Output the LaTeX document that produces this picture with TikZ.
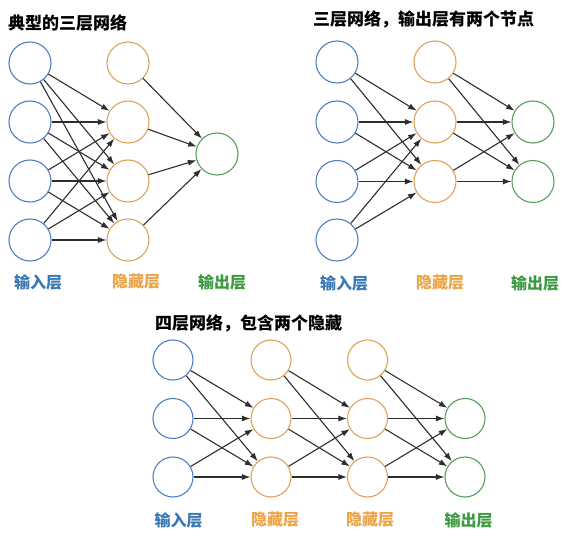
\documentclass[tikz,border=0pt]{standalone}
\usepackage{fontspec}
\newfontfamily\cjk{Noto Sans CJK SC}
\usetikzlibrary{arrows.meta}
\definecolor{inblue}{HTML}{5080C4}
\definecolor{hidorange}{HTML}{DDA35A}
\definecolor{outgreen}{HTML}{5A9E5C}
\definecolor{lblblue}{HTML}{3A7AB4}
\definecolor{lblorange}{HTML}{EBA446}
\definecolor{lblgreen}{HTML}{3E9A40}
\definecolor{edgegray}{HTML}{2E2E2E}
\begin{document}
\begin{tikzpicture}[x=1pt,y=-1pt,
  neuron/.style={circle,draw,line width=1.1pt,minimum size=42pt,inner sep=0pt},
  smallneuron/.style={neuron,minimum size=40pt},
  inn/.style={draw=inblue},
  hid/.style={draw=hidorange},
  outn/.style={draw=outgreen},
  edge/.style={draw=edgegray,line width=1.1pt,-{Latex[length=8.5pt,width=6pt]}},
  title/.style={font=\cjk\bfseries\fontsize{17}{20}\selectfont,anchor=west,inner sep=0pt},
  lbl/.style={font=\cjk\bfseries\fontsize{16}{19}\selectfont,inner sep=0pt}
]
\useasboundingbox (0,0) rectangle (573,540);
\fill[white] (0,0) rectangle (573,540);

% ---------- Panel 1 ----------
\node[title] (t1) at (8,23) {典型的三层网络};
\foreach \i/\y in {1/63,2/122,3/181,4/240}{
  \node[neuron,inn] (pa\i) at (30,\y) {};
  \node[neuron,hid] (pb\i) at (128,\y) {};
}
\node[neuron,outn] (pc1) at (217,154) {};
\foreach \i in {1,...,4}{
  \foreach \j in {2,3,4}{
    \draw[edge] (pa\i) -- (pb\j);
  }
  \draw[edge] (pb\i) -- (pc1);
}
\node[lbl,text=lblblue] (l1a) at (38,282) {输入层};
\node[lbl,text=lblorange] (l1b) at (136,282) {隐藏层};
\node[lbl,text=lblgreen] (l1c) at (222,282) {输出层};

% ---------- Panel 2 ----------
\node[title] (t2) at (313,19) {三层网络，输出层有两个节点};
\foreach \i/\y in {1/62,2/122,3/181.5,4/240}{
  \node[neuron,inn] (qa\i) at (337,\y) {};
}
\foreach \i/\y in {1/62,2/122,3/181.5}{
  \node[neuron,hid] (qb\i) at (435,\y) {};
}
\foreach \i/\y in {1/122,2/181.5}{
  \node[neuron,outn] (qc\i) at (533,\y) {};
}
\foreach \i in {1,...,4}{
  \foreach \j in {2,3}{
    \draw[edge] (qa\i) -- (qb\j);
  }
}
\foreach \i in {1,2,3}{
  \foreach \j in {1,2}{
    \draw[edge] (qb\i) -- (qc\j);
  }
}
\node[lbl,text=lblblue] (l2a) at (344,283) {输入层};
\node[lbl,text=lblorange] (l2b) at (440,283) {隐藏层};
\node[lbl,text=lblgreen] (l2c) at (535,283) {输出层};

% ---------- Panel 3 ----------
\node[title] (t3) at (155,323) {四层网络，包含两个隐藏};
\foreach \i/\y in {1/360,2/418.5,3/477}{
  \node[smallneuron,inn] (ra\i) at (173,\y) {};
  \node[smallneuron,hid] (rb\i) at (271,\y) {};
  \node[smallneuron,hid] (rc\i) at (367.5,\y) {};
}
\foreach \i/\y in {1/418.5,2/477}{
  \node[smallneuron,outn] (rd\i) at (465,\y) {};
}
\foreach \i in {1,2,3}{
  \foreach \j in {2,3}{
    \draw[edge] (ra\i) -- (rb\j);
    \draw[edge] (rb\i) -- (rc\j);
  }
  \foreach \j in {1,2}{
    \draw[edge] (rc\i) -- (rd\j);
  }
}
\node[lbl,text=lblblue] (l3a) at (178.5,520) {输入层};
\node[lbl,text=lblorange] (l3b) at (275,520) {隐藏层};
\node[lbl,text=lblorange] (l3c) at (370,520) {隐藏层};
\node[lbl,text=lblgreen] (l3d) at (468.5,520) {输出层};
\end{tikzpicture}
\end{document}
